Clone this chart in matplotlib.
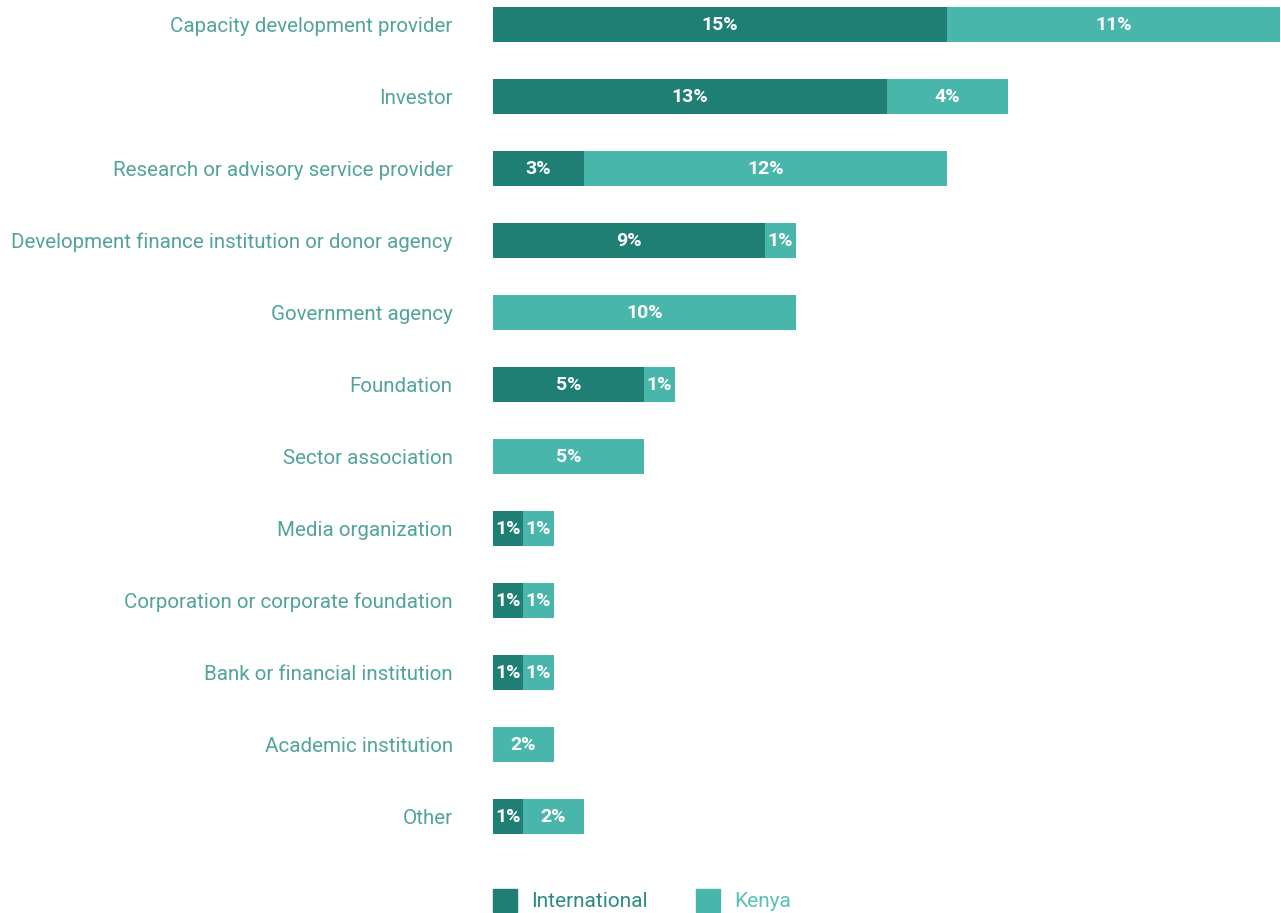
import matplotlib.pyplot as plt
from matplotlib.patches import Rectangle

categories = [
    'Capacity development provider',
    'Investor',
    'Research or advisory service provider',
    'Development finance institution or donor agency',
    'Government agency',
    'Foundation',
    'Sector association',
    'Media organization',
    'Corporation or corporate foundation',
    'Bank or financial institution',
    'Academic institution',
    'Other',
]
international = [15, 13, 3, 9, 0, 5, 0, 1, 1, 1, 0, 1]
kenya = [11, 4, 12, 1, 10, 1, 5, 1, 1, 1, 2, 2]

DARK = '#1f7f75'
LIGHT = '#48b6ab'
LABEL = '#52a39a'

W, H = 1281, 913
fig = plt.figure(figsize=(W / 100, H / 100), dpi=100)
# axes in pixel terms: x 493..1280, y 0..850
ax = fig.add_axes([493 / W, 1 - 850 / H, 787 / W, 850 / H])
ax.set_xlim(0, 26)
top = -24.5 / 72
bottom = (850 - 24.5) / 72
ax.set_ylim(bottom, top)

ys = list(range(len(categories)))
bh = 35 / 72
ax.barh(ys, international, height=bh, color=DARK, linewidth=0)
ax.barh(ys, kenya, left=international, height=bh, color=LIGHT, linewidth=0)

for y, a, b in zip(ys, international, kenya):
    if a > 0:
        ax.text(a / 2, y, f'{a}%', ha='center', va='center', color='white',
                fontsize=14, fontweight='bold', family='Roboto')
    if b > 0:
        ax.text(a + b / 2, y, f'{b}%', ha='center', va='center', color='white',
                fontsize=14, fontweight='bold', family='Roboto')

ax.set_yticks(ys)
ax.set_yticklabels(categories, fontsize=14.8, color=LABEL, family='Roboto')
ax.tick_params(axis='y', length=0, pad=29)
ax.set_xticks([])
for s in ax.spines.values():
    s.set_visible(False)

# legend
ly = 901
for x0, col, txt, tcol in [(493, DARK, 'International', '#2f8a80'),
                           (696, LIGHT, 'Kenya', '#5cc0b5')]:
    fig.patches.append(Rectangle((x0 / W, 1 - (ly + 11) / H), 24 / W, 23 / H,
                                 transform=fig.transFigure, color=col))
    fig.text((x0 + 38) / W, 1 - ly / H, txt, ha='left', va='center',
             fontsize=15, color=tcol, family='Roboto')

fig.savefig('out.png', dpi=100)
